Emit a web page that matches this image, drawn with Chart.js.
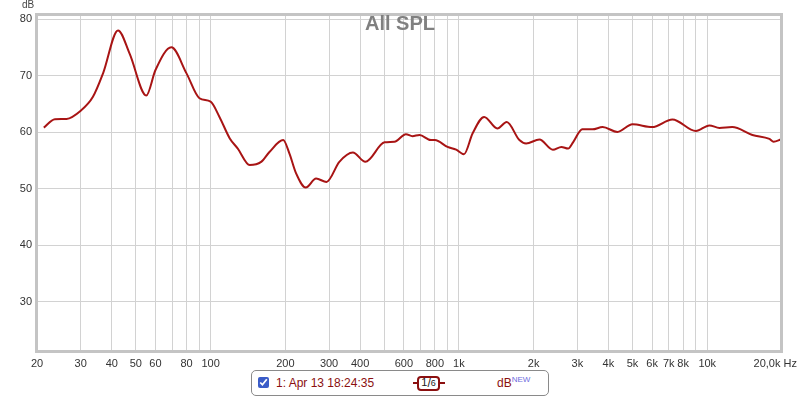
<!DOCTYPE html>
<html>
<head>
<meta charset="utf-8">
<script src="https://cdn.jsdelivr.net/npm/chart.js@4/dist/chart.umd.min.js"></script>
<style>
  html, body { margin:0; padding:0; background:#fff; overflow:hidden; }
  #wrap { position:relative; width:800px; height:398px; font-family:"Liberation Sans", Arial, sans-serif; }
  canvas { position:absolute; left:0; top:0; }
  #title { position:absolute; left:0; width:800px; top:12px; text-align:center; font-weight:bold; font-size:20px; color:#808080; }
  #dbl { position:absolute; left:22px; top:-1px; font-size:10px; color:#444; }
  #lastx { position:absolute; right:3px; top:357px; font-size:11px; color:#333; white-space:nowrap; }
  #legend { position:absolute; left:251px; top:370px; width:296px; height:24px; border:1px solid #8a8a8a; border-radius:5px; background:#fff; }
  #cb { position:absolute; left:6px; top:6px; width:11px; height:11px; margin:0; accent-color:#3a5cc8; }
  #lt { position:absolute; left:24px; top:5px; font-size:12px; color:#8b1010; }
  #bline { position:absolute; left:161px; top:11px; width:32px; height:0; border-top:2px solid #8b1010; }
  #badge { position:absolute; left:165px; top:5px; width:19px; height:11px; border:2px solid #8b1010; border-radius:4px; background:#fff; font-size:12px; color:#222; line-height:11px; text-align:center; }
  #badge sup { font-size:11px; position:relative; top:-1px; vertical-align:top; }
  #badge sub { font-size:9px; vertical-align:bottom; }
  #dbn { position:absolute; left:245px; top:5px; font-size:12px; color:#8b1010; }
  #dbn span { font-size:8px; color:#6d6de0; position:relative; top:-5px; }
</style>
</head>
<body>
<div id="wrap">
  <canvas id="c" width="800" height="398"></canvas>
  <div id="title">All SPL</div>
  <div id="dbl">dB</div>
  <div id="lastx"></div>
  <div id="legend">
    <input type="checkbox" id="cb" checked>
    <div id="lt">1: Apr 13 18:24:35</div>
    <div id="bline"></div>
    <div id="badge"><sup>1</sup>/<sub>6</sub></div>
    <div id="dbn">dB<span>NEW</span></div>
  </div>
</div>
<script>
// Frequencies (Hz) and SPL (dB)
const freqs = [21.3, 23.6, 26.3, 30, 33.6, 36.9, 42.4, 47.2, 55.1, 60, 69.5, 80, 90.2, 100, 108.6, 119.5, 128.7, 143.7, 159.8, 172.6, 196, 207.8, 221, 241.7, 266, 293, 330, 374, 420, 502, 550, 612, 650, 694, 772, 800, 900, 975, 1048, 1136, 1264, 1428, 1558, 1752, 1864, 2110, 2390, 2586, 2752, 2890, 3140, 3450, 3790, 4350, 5000, 6000, 7240, 9000, 10200, 11200, 12600, 15200, 17800, 18500, 19800];
const spl = [60.8, 62.3, 62.35, 63.8, 66.25, 70.4, 78.0, 73.9, 66.5, 71.0, 75.0, 70.4, 66.0, 65.4, 62.7, 58.9, 57.1, 54.2, 54.75, 56.5, 58.6, 56.2, 52.7, 50.2, 51.8, 51.2, 54.75, 56.4, 54.75, 58.2, 58.3, 59.65, 59.3, 59.5, 58.6, 58.6, 57.4, 56.9, 56.1, 59.8, 62.7, 60.65, 61.8, 58.6, 58.0, 58.7, 56.9, 57.4, 57.1, 58.3, 60.5, 60.5, 60.9, 60.05, 61.4, 60.9, 62.25, 60.2, 61.2, 60.75, 60.9, 59.5, 58.8, 58.3, 58.7];

// X grid positions and tick labels
const xGrid = [20,30,40,50,60,70,80,90,100,200,300,400,500,600,700,800,900,1000,2000,3000,4000,5000,6000,7000,8000,9000,10000,20000];
const xLabelVals = [20,30,40,50,60,80,100,200,300,400,600,800,1000,2000,3000,4000,5000,6000,7000,8000,10000,20000];
const xLabelText = ['20','30','40','50','60','80','100','200','300','400','600','800','1k','2k','3k','4k','5k','6k','7k','8k','10k','20,0k Hz'];
const yTicks = [30,40,50,60,70,80];

const pts = freqs.map((f,i)=>({x:f, y:spl[i]}));
// last x label is right-aligned at the canvas edge, as in the reference
document.getElementById('lastx').textContent = xLabelText[xLabelText.length-1];

const frame = {
  id:'frame',
  afterDraw(chart){
    const a = chart.chartArea, ctx = chart.ctx;
    ctx.save();
    ctx.strokeStyle = '#c4c4c4';
    ctx.lineWidth = 3;
    ctx.strokeRect(a.left-0.5, a.top+0.5, a.right-a.left, a.bottom-a.top);
    ctx.restore();
  }
};

new Chart(document.getElementById('c'), {
  type:'line',
  data:{ datasets:[{ data:pts, borderColor:'#a81414', borderWidth:2, pointRadius:0, fill:false, cubicInterpolationMode:'monotone' }]},
  options:{
    responsive:false, animation:false,
    layout:{ padding:{ left:0, top:14, right:18, bottom:0 } },
    plugins:{ legend:{display:false}, tooltip:{enabled:false}, title:{display:false} },
    scales:{
      x:{
        type:'logarithmic', min:20, max:20000,
        afterBuildTicks(s){ s.ticks = xGrid.map(v=>({value:v})); },
        afterFit(s){ s.height = 47; s.paddingLeft = 0; s.paddingRight = 0; },
        grid:{ color:'#d2d2d2', lineWidth:1, drawTicks:false },
        border:{ display:false },
        ticks:{
          autoSkip:false, maxRotation:0, padding:6,
          color:'#333', font:{ family:'"Liberation Sans", Arial, sans-serif', size:11 },
          callback(v){ const i = xLabelVals.indexOf(v); return (i>=0 && i<xLabelVals.length-1) ? xLabelText[i] : ''; }
        }
      },
      y:{
        min:21.3, max:80.9,
        afterBuildTicks(s){ s.ticks = yTicks.map(v=>({value:v})); },
        afterFit(s){ s.width = 37; s.paddingTop = 0; s.paddingBottom = 0; },
        grid:{ color:'#d2d2d2', lineWidth:1, drawTicks:false },
        border:{ display:false },
        ticks:{ padding:5, color:'#333', font:{ family:'"Liberation Sans", Arial, sans-serif', size:11 } }
      }
    }
  },
  plugins:[frame]
});
</script>
</body>
</html>
